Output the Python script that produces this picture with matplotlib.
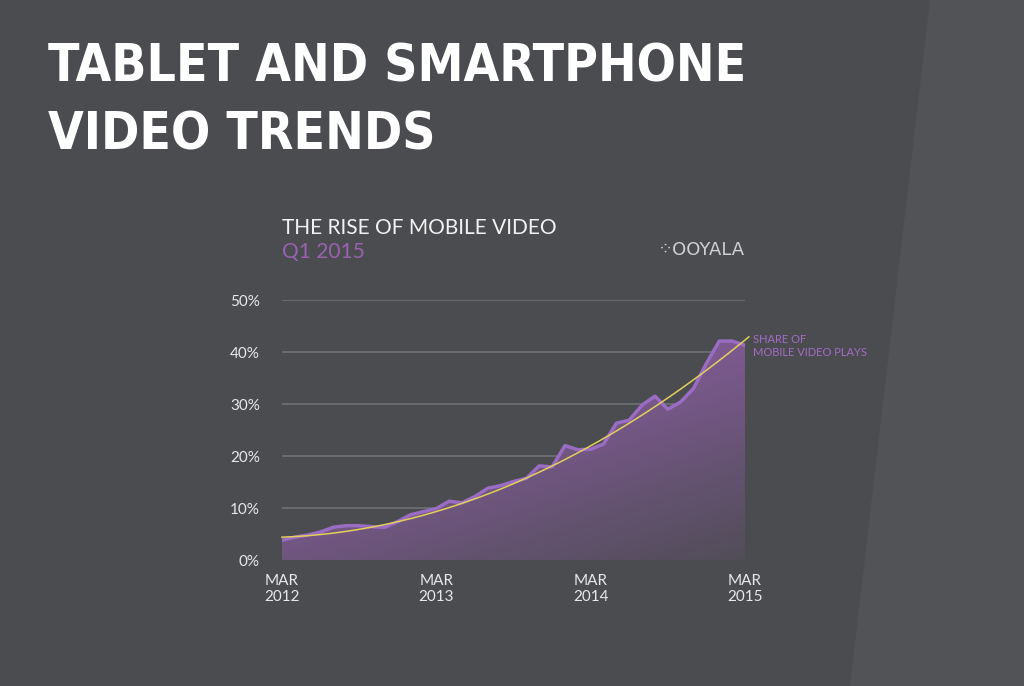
import numpy as np
import matplotlib
matplotlib.use('Agg')
import matplotlib.pyplot as plt
from matplotlib.patches import Polygon

# monthly share of mobile video plays, Mar 2012 .. Mar 2015 (%)
months = np.arange(37)
share = [3.8, 4.4, 4.8, 5.4, 6.3, 6.6, 6.6, 6.4, 6.3, 7.4, 8.7, 9.3, 9.9,
         11.3, 11.0, 12.2, 13.8, 14.3, 15.1, 15.7, 18.1, 17.9, 22.0, 21.2,
         21.3, 22.3, 26.3, 26.9, 29.8, 31.5, 29.0, 30.4, 33.0, 37.8, 42.1,
         42.1, 41.3]
# trend line anchor points
trend_x = [0, 6, 12, 18, 24, 30, 36]
trend_y = [4.2, 6.0, 9.7, 14.6, 21.7, 31.0, 42.5]
xtick_pos = [0, 12, 24, 36]
xtick_labels = ['MAR\n2012', 'MAR\n2013', 'MAR\n2014', 'MAR\n2015']
ytick_pos = [0, 10, 20, 30, 40, 50]
ytick_labels = ['0%', '10%', '20%', '30%', '40%', '50%']

W, H = 1024, 686
bg = '#4a4c50'
fig = plt.figure(figsize=(W / 100, H / 100), dpi=100, facecolor=bg)

# lighter diagonal band on the right of the background
bgax = fig.add_axes([0, 0, 1, 1])
bgax.set_xlim(0, W); bgax.set_ylim(H, 0); bgax.axis('off')
bgax.add_patch(Polygon([(930, 0), (W, 0), (W, H), (850, H)], closed=True,
                       facecolor='#515357', edgecolor='none'))

fig.text(48 / W, 1 - 82 / H, 'TABLET AND SMARTPHONE', color='white',
         fontsize=37, fontweight='bold', family='DejaVu Sans',
         fontstretch='condensed', va='baseline', ha='left')
fig.text(48 / W, 1 - 150 / H, 'VIDEO TRENDS', color='white',
         fontsize=37, fontweight='bold', family='DejaVu Sans',
         fontstretch='condensed', va='baseline', ha='left')
fig.text(282 / W, 1 - 228 / H, 'THE RISE OF MOBILE VIDEO', color='#f2f2f2',
         fontsize=15, va='center', ha='left', family='Lato')
fig.text(282 / W, 1 - 252 / H, 'Q1 2015', color='#9a62b0',
         fontsize=15, va='center', ha='left', family='Lato')
fig.text(745 / W, 1 - 250 / H, '⁘OOYALA', color='#d0d0d0',
         fontsize=13, va='center', ha='right', family='DejaVu Sans')

ax = fig.add_axes([282 / W, 1 - 560 / H, (745 - 282) / W, (560 - 300) / H])
ax.set_facecolor('none')
ax.set_xlim(0, 36)
ax.set_ylim(0, 50)
for s in ax.spines.values():
    s.set_visible(False)
for y in ytick_pos:
    ax.axhline(y, color='#6f7175', lw=1.2, zorder=0)

# gradient fill clipped to the area under the data
gx, gy = np.meshgrid(np.linspace(0, 1, 200), np.linspace(0, 1, 200))
t = np.clip(0.8 * gy + 0.45 * (1 - gx) + 0.05, 0, 1)
top = np.array([0x8f, 0x5f, 0xa8]) / 255
bot = np.array([0x4e, 0x4c, 0x54]) / 255
img = bot + (top - bot) * t[..., None]
im = ax.imshow(img, extent=[0, 36, 0, 50], origin='lower', aspect='auto', zorder=1)
poly = Polygon(list(zip(months, share)) + [(36, 0), (0, 0)], closed=True,
               facecolor='none', edgecolor='none', transform=ax.transData)
ax.add_patch(poly)
im.set_clip_path(poly)
ax.plot(months, share, color='#9a6cc4', lw=2.5, zorder=2)

coef = np.polyfit(trend_x, trend_y, 2)
tx = np.linspace(0, 36.3, 200)
ax.plot(tx, np.polyval(coef, tx), color='#e3cf5a', lw=1.1, zorder=3, clip_on=False)

ax.set_xticks(xtick_pos)
ax.set_xticklabels(xtick_labels, color='#e8e8e8', fontsize=11, family='Lato')
ax.set_yticks(ytick_pos)
ax.set_yticklabels(ytick_labels, color='#e8e8e8', fontsize=11, family='Lato')
ax.tick_params(length=0, pad=10)
ax.tick_params(axis='y', pad=16)

ax.text(36.6, 43.5, 'SHARE OF\nMOBILE VIDEO PLAYS', color='#a46cc8',
        fontsize=8, va='top', ha='left', family='Lato', linespacing=1.2)

fig.savefig('out.png', dpi=100, facecolor=bg)
